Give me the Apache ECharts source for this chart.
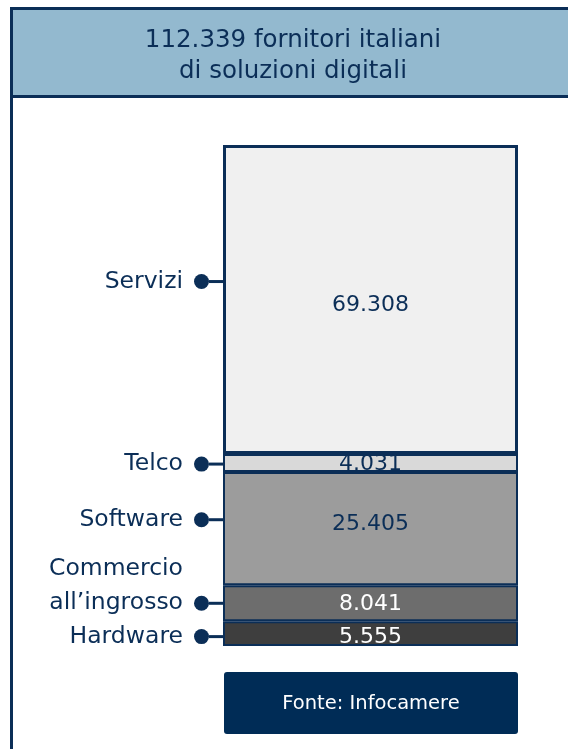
<!DOCTYPE html>
<html>
<head>
<meta charset="utf-8">
<title>Fornitori italiani di soluzioni digitali</title>
<script src="https://cdn.jsdelivr.net/npm/echarts@6/dist/echarts.min.js"></script>
<style>
  * { margin: 0; padding: 0; }
  body { width: 568px; height: 749px; background: #ffffff; }
  #chart { width: 568px; height: 749px; }
</style>
</head>
<body>
<div id="chart"></div>
<script>
// dati (Infocamere)
var categories = ['Hardware', 'Commercio\nall\u2019ingrosso', 'Software', 'Telco', 'Servizi'];
var values = [5555, 8041, 25405, 4031, 69308];
var totale = 112339;
var titolo = ['112.339 fornitori italiani', 'di soluzioni digitali'];
var fonte = 'Fonte: Infocamere';

var navy = '#0b2e57';
var fills = ['#3e3e3e', '#6d6d6d', '#9c9c9c', '#d9d9d9', '#f0f0f0'];
var valueColors = ['#ffffff', '#ffffff', navy, navy, navy];
var nameOffsets = [3, -17, -9, 1, -18];
var valueOffsets = [4, 1, -4, 1, 6];
var font = '"DejaVu Sans", Verdana, sans-serif';

function fmt(v) {
  return String(v).replace(/\B(?=(\d{3})+(?!\d))/g, '.');
}

function nameLabel(name) {
  var lines = name.split('\n');
  var out = [];
  for (var i = 0; i < lines.length; i++) {
    if (i === lines.length - 1) out.push('{t|' + lines[i] + '}{dot|}{ln|}');
    else out.push('{t|' + lines[i] + '}{pad|}');
  }
  return out.join('\n');
}

var chart = echarts.init(document.getElementById('chart'));

var series = [];
categories.forEach(function (c, i) {
  series.push({
    name: c,
    type: 'bar',
    stack: 'tot',
    barWidth: '100%',
    data: [values[i]],
    itemStyle: {
      color: fills[i],
      borderColor: navy,
      borderWidth: i === 4 ? 3 : 2
    },
    label: {
      show: true,
      position: 'inside',
      offset: [0, valueOffsets[i]],
      formatter: function (p) { return fmt(p.value); },
      color: valueColors[i],
      fontFamily: font,
      fontSize: 22
    },
    silent: true
  });
  // etichetta a sinistra con pallino e trattino
  series.push({
    name: c + '_lbl',
    type: 'bar',
    stack: 'lbl',
    barWidth: '100%',
    barGap: '-100%',
    data: [values[i]],
    itemStyle: { color: 'transparent' },
    z: 5,
    label: {
      show: true,
      position: 'left',
      distance: 0,
      offset: [0, nameOffsets[i]],
      formatter: function () { return nameLabel(c); },
      rich: {
        t: { color: navy, fontFamily: font, fontSize: 23.5, lineHeight: 34, padding: [0, 11, 0, 0], verticalAlign: 'middle' },
        pad: { width: 29, height: 14, lineHeight: 34 },
        dot: { width: 15, height: 15, borderRadius: 7.5, backgroundColor: navy, verticalAlign: 'middle' },
        ln: { width: 14, height: 3, backgroundColor: navy, verticalAlign: 'middle' }
      }
    },
    silent: true
  });
});

chart.setOption({
  animation: false,
  grid: { left: 223, right: 50, top: 145, bottom: 103 },
  xAxis: { type: 'category', data: [''], show: false },
  yAxis: { type: 'value', min: 0, max: totale, show: false },
  series: series,
  graphic: [
    {
      type: 'rect',
      shape: { x: 11.5, y: 8.5, width: 600, height: 88 },
      style: { fill: '#93b9cf', stroke: navy, lineWidth: 3 }
    },
    {
      type: 'line',
      shape: { x1: 11.5, y1: 96, x2: 11.5, y2: 749 },
      style: { stroke: navy, lineWidth: 3 }
    },
    {
      type: 'text',
      x: 293, y: 56,
      style: {
        text: titolo.join('\n'),
        fill: navy,
        font: '24.5px ' + font,
        lineHeight: 31,
        align: 'center',
        verticalAlign: 'middle'
      }
    },
    {
      type: 'rect',
      shape: { x: 224, y: 672, width: 294, height: 62, r: 3 },
      style: { fill: '#002c56' }
    },
    {
      type: 'text',
      x: 371, y: 704,
      style: {
        text: fonte,
        fill: '#ffffff',
        font: '19.5px ' + font,
        align: 'center',
        verticalAlign: 'middle'
      }
    }
  ]
});
</script>
</body>
</html>
